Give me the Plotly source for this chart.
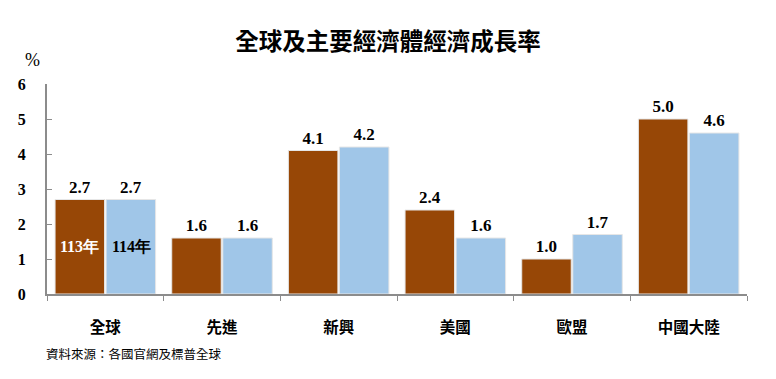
import plotly.graph_objects as go

categories = ["全球", "先進", "新興", "美國", "歐盟", "中國大陸"]
series_names = ["113年", "114年"]
values_113 = [2.7, 1.6, 4.1, 2.4, 1.0, 5.0]
values_114 = [2.7, 1.6, 4.2, 1.6, 1.7, 4.6]
y_ticks = [0, 1, 2, 3, 4, 5, 6]

BROWN = "#974706"
BLUE = "#A0C6E8"
SERIF = "Liberation Serif, Times New Roman, serif"
CJK = "Noto Sans CJK TC, sans-serif"

fig = go.Figure()
for name, vals, col in [(series_names[0], values_113, BROWN), (series_names[1], values_114, BLUE)]:
    fig.add_trace(go.Bar(
        x=categories, y=vals, name=name,
        marker=dict(color=col, line=dict(color="#E6E6E6", width=1)),
        text=[f"<b>{v:.1f}</b>" for v in vals],
        textposition="outside",
        textfont=dict(family=SERIF, size=17, color="black"),
        cliponaxis=False,
    ))

# in-bar series labels on the first group
fig.add_annotation(x=categories[0], y=1.35, xshift=-26, text="<b>" + series_names[0] + "</b>",
                   showarrow=False, font=dict(family=SERIF, size=16, color="white"))
fig.add_annotation(x=categories[0], y=1.35, xshift=26, text="<b>" + series_names[1] + "</b>",
                   showarrow=False, font=dict(family=SERIF, size=16, color="black"))

fig.add_annotation(xref="paper", yref="paper", x=-0.034, y=1.114, yanchor="middle", text="%", showarrow=False,
                   font=dict(family=SERIF, size=18, color="black"))
fig.add_annotation(xref="paper", yref="paper", x=-0.004, y=-0.285, xanchor="left", yanchor="middle",
                   text="資料來源：各國官網及標普全球",
                   showarrow=False, font=dict(family=CJK, size=12.5, color="black"))

fig.update_layout(
    width=776, height=379,
    margin=dict(l=47, r=29, t=84, b=85, autoexpand=False),
    paper_bgcolor="white", plot_bgcolor="white",
    title=dict(text="<b>全球及主要經濟體經濟成長率</b>", x=0.5, xanchor="center", y=0.889, yanchor="middle",
               font=dict(family=CJK, size=23.5, color="black")),
    barmode="group", bargap=0.125, bargroupgap=0.03,
    showlegend=False,
)
fig.update_xaxes(
    automargin=False,
    showline=True, linecolor="#8C8C8C", linewidth=2,
    ticks="outside", ticklen=5, tickcolor="#8C8C8C", tickson="boundaries",
    tickfont=dict(family=CJK, size=15.5, color="black"),
    ticklabelstandoff=18,
    tickvals=categories, ticktext=[f"<b>{c}</b>" for c in categories],
)
fig.update_yaxes(
    automargin=False,
    range=[0, 6], tickvals=y_ticks, ticktext=[f"<b>{t}</b>" for t in y_ticks],
    showline=True, linecolor="#8C8C8C", linewidth=2,
    ticks="inside", ticklen=5, tickcolor="#8C8C8C",
    showgrid=False, zeroline=False,
    tickfont=dict(family=SERIF, size=16, color="black"),
    ticklabelstandoff=16,
)

fig.write_html("out.html", config={"displayModeBar": False},
               post_script="document.body.style.margin='0';")
